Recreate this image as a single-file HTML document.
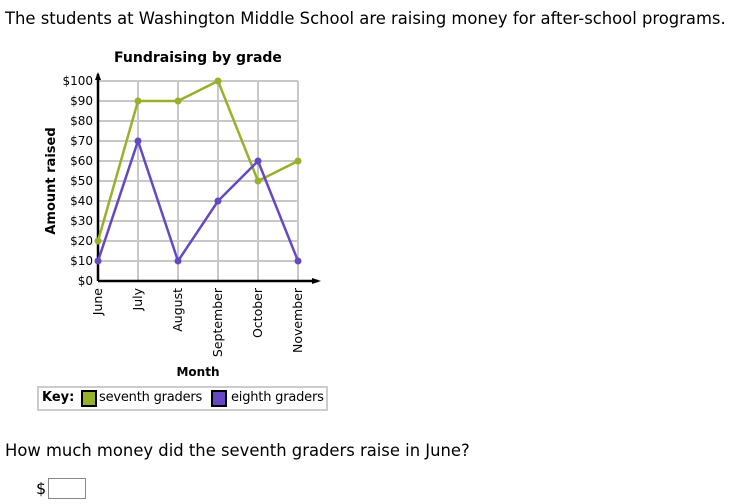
<!DOCTYPE html>
<html><head><meta charset="utf-8"><style>
body{margin:0;background:#fff;font-family:"DejaVu Sans","Liberation Sans",sans-serif;}
#wrap{position:relative;width:730px;height:504px;overflow:hidden}
.t{position:absolute;white-space:nowrap;color:#000}
</style></head><body><div id="wrap">
<div class="t" style="left:5px;top:9px;font-size:16.4px">The students at Washington Middle School are raising money for after-school programs.</div>
<svg id="chart" width="730" height="390" style="position:absolute;left:0;top:0" font-family="DejaVu Sans, Liberation Sans, sans-serif"></svg>
<div style="position:absolute;left:37px;top:386px;width:287px;height:21px;border:2px solid #ccc;font-size:13px">
<span class="t" style="left:3px;top:2px;font-weight:bold">Key:</span>
<span style="position:absolute;left:42px;top:2px;width:12px;height:13px;background:#97b12a;border:2px solid #000"></span>
<span class="t" style="left:60px;top:2px;letter-spacing:-0.2px">seventh graders</span>
<span style="position:absolute;left:172px;top:2px;width:12px;height:13px;background:#6448c4;border:2px solid #000"></span>
<span class="t" style="left:192px;top:2px;letter-spacing:-0.2px">eighth graders</span>
</div>
<div class="t" style="left:5px;top:441px;font-size:16.4px">How much money did the seventh graders raise in June?</div>
<div class="t" style="left:36px;top:479px;font-size:16px">$</div>
<input style="position:absolute;left:48px;top:478px;width:36px;height:19px;border:1px solid #888;padding:0;margin:0">
</div>
<script>
const months=["June","July","August","September","October","November"];
const seventh=[20,90,90,100,50,60];
const eighth=[10,70,10,40,60,10];
const yTicks=[0,10,20,30,40,50,60,70,80,90,100];
const svg=document.getElementById('chart');
const NS='http://www.w3.org/2000/svg';
const x0=98,dx=40,y0=281,ky=2;
const X=i=>x0+i*dx, Y=v=>y0-v*ky;
function el(t,a,p){const e=document.createElementNS(NS,t);for(const k in a)e.setAttribute(k,a[k]);(p||svg).appendChild(e);return e;}
let e=el('text',{x:198,y:62,'text-anchor':'middle','font-size':14,'font-weight':'bold'});e.textContent='Fundraising by grade';

yTicks.forEach(v=>{if(v>0){const g=el('line',{x1:x0,x2:X(5),y1:Y(v),y2:Y(v),stroke:'#c8c8c8','stroke-width':2});}
const t=el('text',{x:93,y:Y(v)+4,'text-anchor':'end','font-size':12});t.textContent='$'+v;});
months.forEach((m,i)=>{if(i>0){const g=el('line',{x1:X(i),x2:X(i),y1:Y(100),y2:y0,stroke:'#c8c8c8','stroke-width':2});}
const t=el('text',{x:0,y:0,'text-anchor':'end','font-size':12.5,transform:`translate(${X(i)+4},288) rotate(-90)`});t.textContent=m;});
e=el('path',{d:`M${x0} ${y0}V74`,stroke:'#000','stroke-width':2.5,fill:'none'});
e=el('path',{d:`M${x0-3} 80L${x0} 72L${x0+3} 80Z`,fill:'#000'});
e=el('path',{d:`M${x0} ${y0}H318`,stroke:'#000','stroke-width':2.5,fill:'none'});
e=el('path',{d:`M312 ${y0-3}L321 ${y0}L312 ${y0+3}Z`,fill:'#000'});
e=el('text',{x:0,y:0,'text-anchor':'middle','font-size':13,'font-weight':'bold',transform:'translate(55,181) rotate(-90)'});e.textContent='Amount raised';
e=el('text',{x:198,y:376,'text-anchor':'middle','font-size':12,'font-weight':'bold'});e.textContent='Month';
[[seventh,'#97b12a','seventh'],[eighth,'#6448c4','eighth']].forEach(([d,c,n])=>{
const l=el('polyline',{points:d.map((v,i)=>X(i)+','+Y(v)).join(' '),fill:'none',stroke:c,'stroke-width':2.5});
d.forEach((v,i)=>{const p=el('circle',{cx:X(i),cy:Y(v),r:3.5,fill:c});});});
</script></body></html>
